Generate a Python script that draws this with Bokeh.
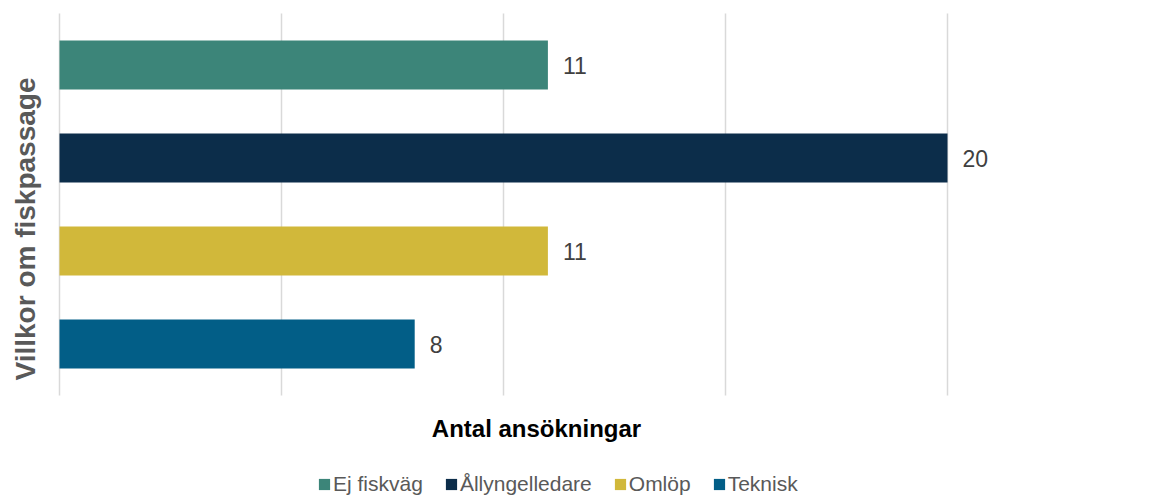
import math
from bokeh.plotting import figure
from bokeh.models import (Range1d, Label, Legend, LegendItem, ColumnDataSource)
from bokeh.core.properties import value
from bokeh.embed import file_html
from bokeh.resources import INLINE

categories = ["Ej fiskväg", "Ållyngelledare", "Omlöp", "Teknisk"]
counts = [11, 20, 11, 8]
colors = ["#3C8579", "#0C2D4A", "#D1B83A", "#025E87"]
grid_ticks = [0, 5, 10, 15, 20]
x_title = "Antal ansökningar"
y_title = "Villkor om fiskpassage"

FONT = "Liberation Sans"
W, H = 1158, 496

positions = list(range(len(categories)))
src = ColumnDataSource(dict(cat=categories, y=positions, x=counts, color=colors,
                            lbl=[str(c) for c in counts]))

# pixel geometry of the plot area
px_per_unit = 44.4
x0_px = 59
band_px = 93
first_center_px = 64.5
x_start = -x0_px / px_per_unit
x_end = (W - x0_px) / px_per_unit
y_top = -first_center_px / band_px
y_bot = (H - first_center_px) / band_px

p = figure(width=W, height=H, output_backend="svg", toolbar_location=None,
           x_range=Range1d(x_start, x_end), y_range=Range1d(y_bot, y_top),
           min_border=0)
p.outline_line_color = None
p.xaxis.visible = False
p.yaxis.visible = False
p.xgrid.grid_line_color = None
p.ygrid.grid_line_color = None

pad = 0.554
gsrc = ColumnDataSource(dict(x=grid_ticks, y0=[-pad] * len(grid_ticks),
                             y1=[len(categories) - 1 + pad] * len(grid_ticks)))
p.segment(x0="x", x1="x", y0="y0", y1="y1", source=gsrc,
          line_color="#D9D9D9", line_width=1.5)

r = p.hbar(y="y", right="x", left=0, height=0.527, fill_color="color",
           line_color=None, source=src)

p.text(x="x", y="y", text="lbl", source=src, x_offset=15,
       text_baseline="middle", text_align="left", text_font=value(FONT),
       text_font_size="23px", text_color="#404040")

p.add_layout(Label(x=25, y=H - 228.5, x_units="screen", y_units="screen",
                   text=y_title, angle=math.pi / 2, text_align="center",
                   text_baseline="middle", text_font=FONT, text_font_size="28px",
                   text_font_style="bold", text_color="#595959"))
p.add_layout(Label(x=536, y=H - 428, x_units="screen", y_units="screen",
                   text=x_title, text_align="center", text_baseline="middle",
                   text_font=FONT, text_font_size="24px", text_font_style="bold",
                   text_color="#000000"))

items = [LegendItem(label=c, renderers=[r], index=i) for i, c in enumerate(categories)]
legend = Legend(items=items, orientation="horizontal", location=(317, 0),
                glyph_width=14, glyph_height=14, label_standoff=2, spacing=21,
                padding=0, margin=0, border_line_color=None,
                background_fill_alpha=0, label_text_font=FONT,
                label_text_font_size="21px", label_text_color="#595959",
                label_height=14)
p.add_layout(legend, "center")

open("out.html", "w").write(file_html(p, INLINE))
